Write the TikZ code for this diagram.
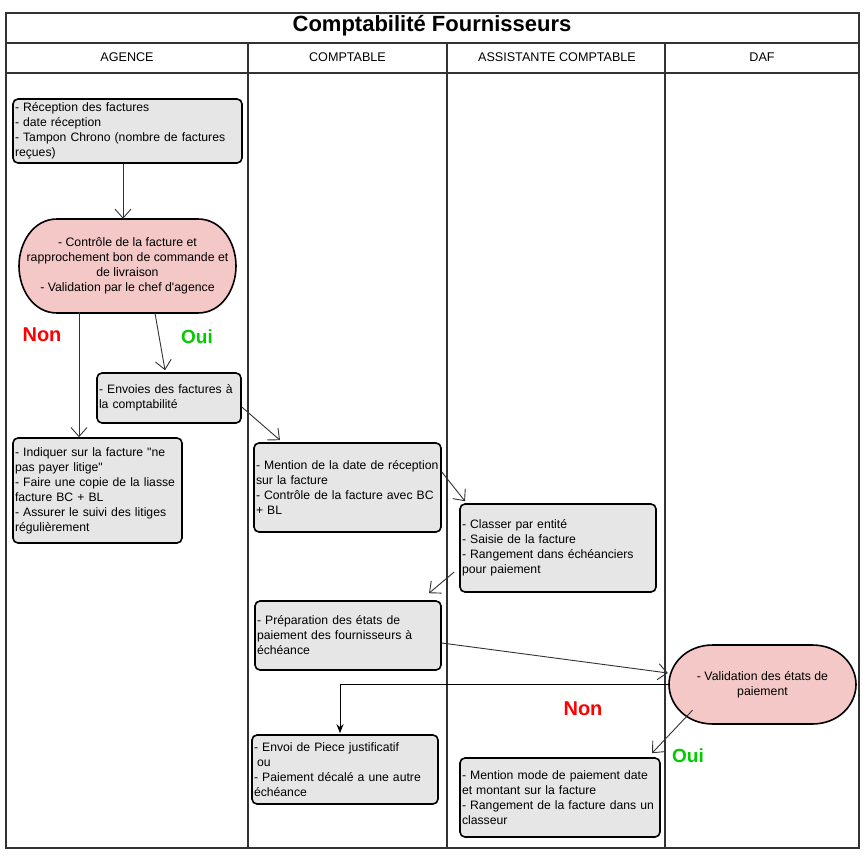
\documentclass[tikz,border=0pt]{standalone}
\usepackage{fontspec}
\newfontfamily\lsans{Liberation Sans}
\usetikzlibrary{arrows.meta,calc}
\definecolor{boxgray}{RGB}{230,230,230}
\definecolor{ellpink}{RGB}{245,200,200}
\definecolor{okgreen}{RGB}{0,204,0}
\definecolor{linegray}{RGB}{50,50,50}
\newcommand\mystadium[5]{%
\draw[ellshape] ({#1+#5},#2) -- ({#3-#5},#2)
 .. controls ({#3-#5+0.62*#5},#2) and (#3,{(#2+#4)/2-0.5*(#4-#2)/2}) .. (#3,{(#2+#4)/2})
 .. controls (#3,{(#2+#4)/2+0.5*(#4-#2)/2}) and ({#3-#5+0.62*#5},#4) .. ({#3-#5},#4)
 -- ({#1+#5},#4)
 .. controls ({#1+#5-0.62*#5},#4) and (#1,{(#2+#4)/2+0.5*(#4-#2)/2}) .. (#1,{(#2+#4)/2})
 .. controls (#1,{(#2+#4)/2-0.5*(#4-#2)/2}) and ({#1+#5-0.62*#5},#2) .. ({#1+#5},#2) -- cycle;}
\begin{document}
\begin{tikzpicture}[x=1pt,y=-1pt,
  frame/.style={draw=linegray, line width=1.3pt},
  stepbox/.style={draw=black, fill=boxgray, line width=1.6pt, rounded corners=5pt, align=left, inner xsep=2pt, inner ysep=0pt, font=\lsans\fontsize{12.2}{15}\selectfont},
  ellshape/.style={draw=black, fill=ellpink, line width=1.6pt},
  elltext/.style={align=center, inner sep=0pt, font=\lsans\fontsize{12.3}{15}\selectfont},
  lane/.style={font=\lsans\fontsize{12.6}{14}\selectfont, inner sep=0pt},
  titletext/.style={font=\lsans\bfseries\fontsize{22}{26}\selectfont, inner sep=0pt},
  arr/.style={draw=linegray, line width=0.9pt, -{Straight Barb[length=9pt,width=16pt,line width=0.9pt]}},
  arrf/.style={draw=black, line width=1pt, -{Stealth[length=9pt,width=7pt]}},
  nonlbl/.style={text=red, font=\lsans\bfseries\fontsize{20}{22}\selectfont, inner sep=0pt},
  ouilbl/.style={text=okgreen, font=\lsans\bfseries\fontsize{19}{22}\selectfont, inner sep=0pt}]
\useasboundingbox (0,0) rectangle (867,859);
\fill[white] (0,0) rectangle (867,859);
% frame
\draw[frame] (6,13) rectangle (859,848);
\draw[frame] (6,43) -- (859,43);
\draw[frame] (6,73) -- (859,73);
\draw[frame] (248,43) -- (248,848);
\draw[frame] (447,43) -- (447,848);
\draw[frame] (665,43) -- (665,848);
\node[titletext] (title) at (432,26) {Comptabilité Fournisseurs};
\node[lane] (h1) at (127,57) {AGENCE};
\node[lane] (h2) at (347.5,57) {COMPTABLE};
\node[lane] (h3) at (557,57) {ASSISTANTE COMPTABLE};
\node[lane] (h4) at (762,57) {DAF};
% nodes
\node[stepbox, text width=225pt, minimum height=64pt] (n1) at (127.5,131)
 {- Réception des factures\\- date réception\\\mbox{- Tampon Chrono (nombre de factures}\\reçues)};
\mystadium{19}{219}{236}{313}{38}
\node[elltext, minimum width=217pt, minimum height=94pt] (n2) at (127.5,266)
 {- Contrôle de la facture et\\rapprochement bon de commande et\\de livraison\\- Validation par le chef d'agence};
\node[stepbox, text width=140pt, minimum height=50pt] (n3) at (169,398)
 {\mbox{- Envoies des factures à}\\la comptabilité};
\node[stepbox, text width=165pt, minimum height=105pt] (n4) at (97.5,490.5)
 {\mbox{- Indiquer sur la facture "ne}\\pas payer litige"\\\mbox{- Faire une copie de la liasse}\\facture BC + BL\\\mbox{- Assurer le suivi des litiges}\\régulièrement};
\node[stepbox, text width=183pt, minimum height=89pt] (n5) at (347.5,487.5)
 {\mbox{- Mention de la date de réception}\\sur la facture\\\mbox{- Contrôle de la facture avec BC}\\+ BL};
\node[stepbox, text width=192pt, minimum height=88pt] (n6) at (558,548)
 {- Classer par entité\\- Saisie de la facture\\\mbox{- Rangement dans échéanciers}\\pour paiement};
\node[stepbox, text width=182pt, minimum height=69pt] (n7) at (348,635.5)
 {- Préparation des états de\\\mbox{paiement des fournisseurs à}\\échéance};
\mystadium{669}{645}{856}{724}{44}
\node[elltext, minimum width=187pt, minimum height=79pt] (n8) at (762.5,684.5)
 {- Validation des états de\\paiement};
\node[stepbox, text width=182pt, minimum height=69pt] (n9) at (345,769.5)
 {\mbox{- Envoi de Piece justificatif}\\\hspace*{3pt}ou\\\mbox{- Paiement décalé a une autre}\\échéance};
\node[stepbox, text width=196pt, minimum height=79pt] (n10) at (560,797.5)
 {\mbox{- Mention mode de paiement date}\\et montant sur la facture\\\mbox{- Rangement de la facture dans un}\\classeur};
% labels
\node[nonlbl] (non1) at (42,335) {Non};
\node[ouilbl] (oui1) at (197,337) {Oui};
\node[nonlbl] (non2) at (583,709) {Non};
\node[ouilbl] (oui2) at (688,756) {Oui};
% connectors
\draw[arr] ($(n1.south)+(-4.5,0)$) -- ($(n2.north)+(-4.5,0)$);
\draw[arr] ($(n2.south)+(-48.5,-1)$) -- ($(n4.north)+(-18.5,0)$);
\draw[arr] ($(n2.south)+(27.5,0)$) -- ($(n3.north)+(-4,-2)$);
\draw[arr] ($(n3.east)+(0,9)$) -- ($(n5.north)+(-67.5,-2)$);
\draw[arr] ($(n5.east)+(0,-15.5)$) -- ($(n6.north)+(-93,-2)$);
\draw[arr] ($(n6.west)+(-5,24)$) -- ($(n7.north)+(81,-7)$);
\draw[arr] ($(n7.east)+(0,7.5)$) -- ($(n8.west)+(-1,-11.5)$);
\draw[arrf] (n8.west) -| ($(n9.north)+(-5,-1)$);
\draw[arr] ($(n8.south)+(-70,-14)$) -- ($(n10.north)+(92,-4)$);
\end{tikzpicture}
\end{document}
